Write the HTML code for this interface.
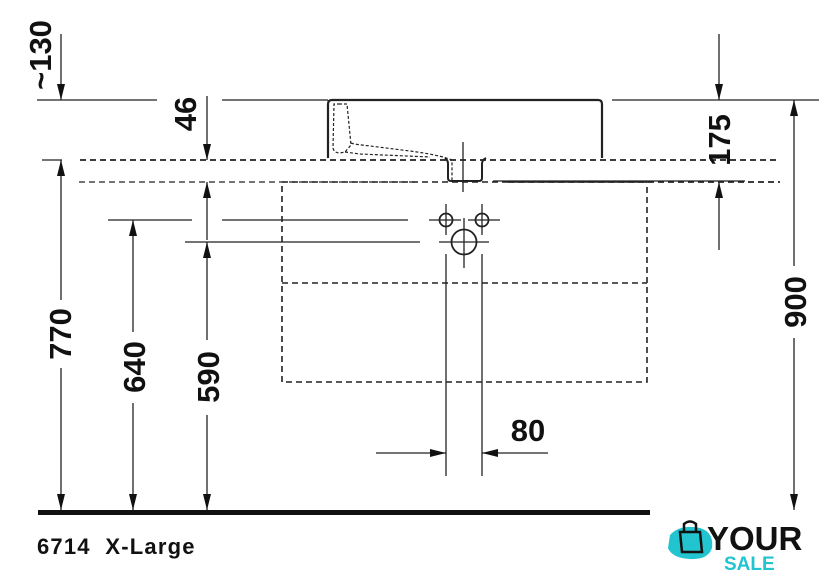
<!DOCTYPE html>
<html><head><meta charset="utf-8"><style>
html,body{margin:0;padding:0;background:#fff;}
svg{display:block;}
text{font-family:"Liberation Sans",Arial,sans-serif;font-weight:bold;fill:#111;}
</style></head><body>
<svg width="840" height="580" viewBox="0 0 840 580" xmlns="http://www.w3.org/2000/svg">
<defs>
<marker id="ah" viewBox="0 0 16 8" refX="16" refY="4" markerWidth="16" markerHeight="8" markerUnits="userSpaceOnUse" orient="auto-start-reverse"><path d="M0,0 L16,4 L0,8 z" fill="#111"/></marker>
</defs>
<g stroke="#222" stroke-width="1.3" fill="none">
<line x1="37" y1="100" x2="157" y2="100"/>
<line x1="222" y1="100" x2="328" y2="100"/>
<line x1="612" y1="100" x2="819" y2="100"/>
<path d="M328,158 L328,104 Q328,100 332,100 L598,100 Q602,100 602,104 L602,158" stroke-width="2.2"/>
<path d="M445,158 Q448,160 448,164 L448,178 Q448,181 451,181 L479,181 Q482,181 482,178 L482,164 Q482,160 486,158" stroke-width="2"/>
<g stroke-dasharray="3,2" stroke-width="1.2">
<path d="M340,104 L334,104 L333,148 Q334,153 340,153 L345,152 L351,145 L347,104 L340,104"/>
<path d="M351,143 L354,144 L410,151 Q440,155 452,160 L452,181"/>
<path d="M345,152 L360,154 L430,157"/>
</g>
<line x1="463" y1="142" x2="463" y2="192"/>
<line x1="42" y1="160" x2="62" y2="160"/>
<line x1="80" y1="160" x2="778" y2="160" stroke-dasharray="6,4" stroke-width="1.8"/>
<line x1="79" y1="182" x2="418" y2="182" stroke-dasharray="6,4" stroke-width="1.3"/>
<line x1="493" y1="181" x2="745" y2="181"/>
<line x1="508" y1="182" x2="780" y2="182" stroke-dasharray="6,4" stroke-width="1.8"/>
<rect x="282" y="182" width="365" height="200" stroke-dasharray="6,4" stroke-width="1.6"/>
<line x1="282" y1="283" x2="647" y2="283" stroke-dasharray="6,4" stroke-width="1.6"/>
<line x1="108" y1="220" x2="192" y2="220"/>
<line x1="222" y1="220" x2="408" y2="220"/>
<line x1="185" y1="242" x2="420" y2="242"/>
<circle cx="446" cy="220" r="6.5" stroke-width="1.8"/>
<circle cx="482" cy="220" r="6.5" stroke-width="1.8"/>
<circle cx="464" cy="242" r="12.5" stroke-width="1.8"/>
<line x1="429" y1="220" x2="461" y2="220"/><line x1="468" y1="220" x2="500" y2="220"/>
<line x1="446" y1="204" x2="446" y2="235"/><line x1="482" y1="204" x2="482" y2="235"/>
<line x1="439" y1="242" x2="489" y2="242"/><line x1="464" y1="218" x2="464" y2="268"/>
<line x1="446" y1="254" x2="446" y2="476"/><line x1="482" y1="254" x2="482" y2="476"/>
<line x1="61" y1="34" x2="61" y2="100" marker-end="url(#ah)"/>
<line x1="207" y1="96" x2="207" y2="160" marker-end="url(#ah)"/>
<line x1="207" y1="240" x2="207" y2="182" marker-end="url(#ah)"/>
<line x1="719" y1="34" x2="719" y2="100" marker-end="url(#ah)"/>
<line x1="719" y1="250" x2="719" y2="182" marker-end="url(#ah)"/>
<line x1="61" y1="300" x2="61" y2="160" marker-end="url(#ah)"/>
<line x1="61" y1="368" x2="61" y2="510" marker-end="url(#ah)"/>
<line x1="133" y1="332" x2="133" y2="220" marker-end="url(#ah)"/>
<line x1="133" y1="403" x2="133" y2="510" marker-end="url(#ah)"/>
<line x1="207" y1="340" x2="207" y2="242" marker-end="url(#ah)"/>
<line x1="207" y1="415" x2="207" y2="510" marker-end="url(#ah)"/>
<line x1="794" y1="266" x2="794" y2="100" marker-end="url(#ah)"/>
<line x1="794" y1="338" x2="794" y2="510" marker-end="url(#ah)"/>
<line x1="376" y1="453" x2="446" y2="453" marker-end="url(#ah)"/>
<line x1="548" y1="453" x2="482" y2="453" marker-end="url(#ah)"/>
</g>
<rect x="38" y="510" width="612" height="5" fill="#111"/>
<g font-size="31">
<text transform="translate(51,55) rotate(-90)" text-anchor="middle">~130</text>
<text transform="translate(196,114) rotate(-90)" text-anchor="middle">46</text>
<text transform="translate(730,140) rotate(-90)" text-anchor="middle">175</text>
<text transform="translate(71,334) rotate(-90)" text-anchor="middle">770</text>
<text transform="translate(145,367) rotate(-90)" text-anchor="middle">640</text>
<text transform="translate(219,377) rotate(-90)" text-anchor="middle">590</text>
<text transform="translate(806,302) rotate(-90)" text-anchor="middle">900</text>
<text x="528" y="441" text-anchor="middle">80</text>
</g>
<text x="37" y="554" font-size="22" letter-spacing="1.2">6714&#160;&#160;X-Large</text>
<rect x="656" y="512" width="184" height="68" rx="10" fill="#fff"/>
<path d="M670,535 Q680,524 700,528 Q714,532 712,548 Q708,560 690,559 Q672,558 668,548 Z" fill="#22c4cf"/>
<path d="M684,532 L684,524 Q690,519 696,524 L696,532 M680,532 L700,532 L702,552 L682,552 Z" fill="none" stroke="#111" stroke-width="2.5"/>
<text x="707" y="550" font-size="33" fill="#151820">YOUR</text>
<text x="724" y="570" font-size="19" style="fill:#22c4cf">SALE</text>
</svg>
</body></html>
